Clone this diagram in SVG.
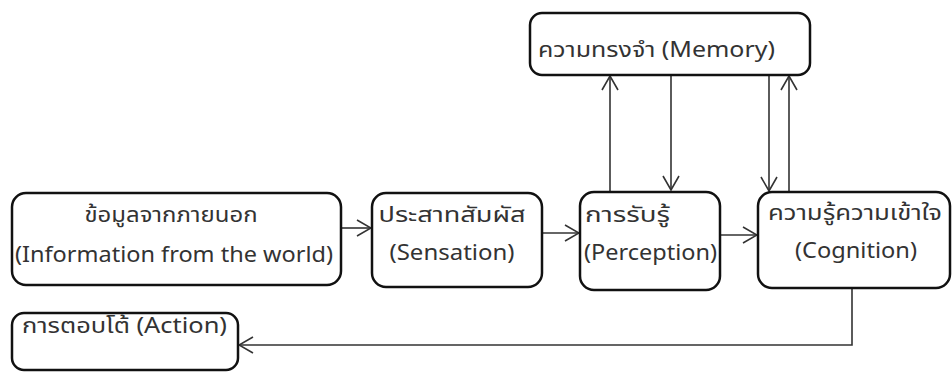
<svg xmlns="http://www.w3.org/2000/svg" width="952" height="372" viewBox="0 0 952 372">
<defs>
<style>
.box{fill:#fff;stroke:#111;stroke-width:2.5}
.t{font-family:"Noto Sans Thai","Tahoma","Noto Sans","DejaVu Sans",sans-serif;font-size:21px;fill:#333}
.c{fill:none;stroke:#333;stroke-width:1.6}
</style>
<marker id="ah" viewBox="0 0 16 18" refX="15" refY="9" markerWidth="16" markerHeight="18" markerUnits="userSpaceOnUse" orient="auto">
<polyline points="1,1 15,9 1,17" fill="none" stroke="#333" stroke-width="1.6"/>
</marker>
</defs>
<rect width="952" height="372" fill="#fff"/>
<g id="connectors">
<line class="c" x1="341" y1="228" x2="371" y2="228" marker-end="url(#ah)"/>
<line class="c" x1="542" y1="233" x2="579" y2="233" marker-end="url(#ah)"/>
<line class="c" x1="720" y1="235" x2="757" y2="235" marker-end="url(#ah)"/>
<line class="c" x1="610" y1="192" x2="610" y2="76" marker-end="url(#ah)"/>
<line class="c" x1="671" y1="75" x2="671" y2="190" marker-end="url(#ah)"/>
<line class="c" x1="769" y1="75" x2="769" y2="191" marker-end="url(#ah)"/>
<line class="c" x1="789" y1="192" x2="789" y2="76" marker-end="url(#ah)"/>
<polyline class="c" points="852,278 852,345 239,345" marker-end="url(#ah)"/>
</g>
<g id="memory">
<rect class="box" x="530" y="13" width="280" height="62" rx="12"/>
<text class="t" x="538" y="57" textLength="237" lengthAdjust="spacingAndGlyphs">ความทรงจำ (Memory)</text>
</g>
<g id="information">
<rect class="box" x="12" y="193" width="329" height="92" rx="14"/>
<text class="t" x="171" y="222" text-anchor="middle" textLength="173" lengthAdjust="spacingAndGlyphs">ข้อมูลจากภายนอก</text>
<text class="t" x="174" y="262" text-anchor="middle" textLength="318" lengthAdjust="spacingAndGlyphs">(Information from the world)</text>
</g>
<g id="sensation">
<rect class="box" x="372" y="193" width="170" height="94" rx="14"/>
<text class="t" x="452" y="222" text-anchor="middle" textLength="147" lengthAdjust="spacingAndGlyphs">ประสาทสัมผัส</text>
<text class="t" x="452" y="260" text-anchor="middle" textLength="125" lengthAdjust="spacingAndGlyphs">(Sensation)</text>
</g>
<g id="perception">
<rect class="box" x="580" y="192" width="140" height="98" rx="14"/>
<text class="t" x="585" y="222" textLength="85" lengthAdjust="spacingAndGlyphs">การรับรู้</text>
<text class="t" x="584" y="260" textLength="133" lengthAdjust="spacingAndGlyphs">(Perception)</text>
</g>
<g id="cognition">
<rect class="box" x="758" y="192" width="192" height="96" rx="14"/>
<text class="t" x="768" y="220" textLength="174" lengthAdjust="spacingAndGlyphs">ความรู้ความเข้าใจ</text>
<text class="t" x="856" y="258" text-anchor="middle" textLength="122" lengthAdjust="spacingAndGlyphs">(Cognition)</text>
</g>
<g id="action">
<rect class="box" x="12" y="313" width="226" height="57" rx="12"/>
<text class="t" x="22" y="333" textLength="205" lengthAdjust="spacingAndGlyphs">การตอบโต้ (Action)</text>
</g>
</svg>
